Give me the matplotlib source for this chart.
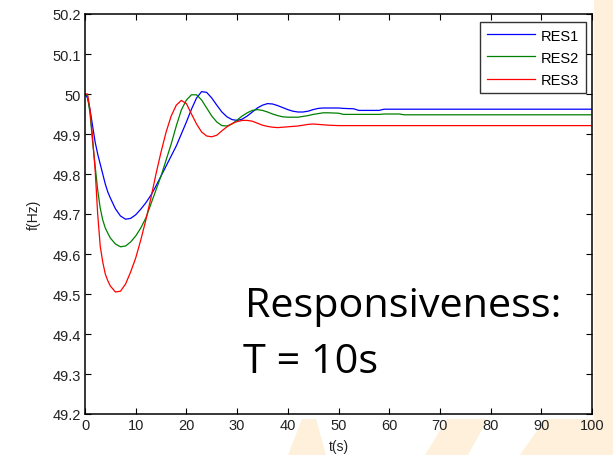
import matplotlib
matplotlib.use("Agg")
import matplotlib.pyplot as plt
from matplotlib.patches import Polygon, Rectangle

# ---------------- data ----------------
t = [0, 0.5, 1, 1.5, 2, 2.5, 3, 3.5, 4, 4.5, 5, 6, 7, 8, 9, 10, 11, 12, 13, 14,
     15, 16, 17, 18, 19, 20, 21, 22, 23, 24, 25, 26, 27, 28, 29, 30, 31, 32, 33,
     34, 35, 36, 37, 38, 39, 40, 41, 42, 43, 44, 45, 46, 47, 48, 50, 51, 53, 54,
     58, 59, 62, 63, 100]

res1 = [50.0, 49.99, 49.96, 49.92, 49.88, 49.85, 49.825, 49.80, 49.775, 49.755,
        49.74, 49.713, 49.695, 49.687, 49.689, 49.698, 49.712, 49.728, 49.747, 49.77,
        49.795, 49.82, 49.845, 49.87, 49.90, 49.93, 49.962, 49.99, 50.006, 50.004,
        49.99, 49.972, 49.955, 49.943, 49.936, 49.934, 49.937, 49.945, 49.955,
        49.965, 49.972, 49.976, 49.975, 49.971, 49.966, 49.961, 49.957, 49.955, 49.955,
        49.957, 49.961, 49.964, 49.965, 49.965, 49.965, 49.964, 49.963, 49.959,
        49.959, 49.962, 49.962, 49.962, 49.962]

res2 = [50.0, 49.995, 49.95, 49.88, 49.82, 49.76, 49.715, 49.685, 49.665, 49.652,
        49.64, 49.625, 49.618, 49.62, 49.63, 49.645, 49.665, 49.69, 49.725, 49.76,
        49.795, 49.835, 49.875, 49.92, 49.96, 49.985, 49.998, 49.998, 49.985, 49.965,
        49.945, 49.93, 49.921, 49.92, 49.925, 49.935, 49.945, 49.953, 49.959,
        49.961, 49.959, 49.955, 49.95, 49.946, 49.943, 49.942, 49.942, 49.942, 49.944,
        49.946, 49.949, 49.951, 49.953, 49.953, 49.952, 49.949, 49.949, 49.949,
        49.949, 49.95, 49.95, 49.948, 49.948]

res3 = [50.0, 50.0, 49.96, 49.89, 49.81, 49.70, 49.62, 49.58, 49.55, 49.533,
        49.52, 49.505, 49.507, 49.525, 49.555, 49.59, 49.635, 49.685, 49.74, 49.80,
        49.855, 49.905, 49.945, 49.972, 49.984, 49.976, 49.95, 49.925, 49.905, 49.895,
        49.893, 49.897, 49.908, 49.918, 49.926, 49.931, 49.934, 49.934, 49.932,
        49.927, 49.922, 49.919, 49.917, 49.916, 49.917, 49.918, 49.919, 49.920, 49.922,
        49.924, 49.925, 49.924, 49.923, 49.922, 49.921, 49.921, 49.921, 49.921,
        49.921, 49.921, 49.921, 49.921, 49.921]

series_labels = ["RES1", "RES2", "RES3"]
series_colors = ["#0000FF", "#008000", "#FF0000"]
xticks = [0, 10, 20, 30, 40, 50, 60, 70, 80, 90, 100]
yticks = [49.2, 49.3, 49.4, 49.5, 49.6, 49.7, 49.8, 49.9, 50.0, 50.1, 50.2]
ytick_labels = ["49.2", "49.3", "49.4", "49.5", "49.6", "49.7", "49.8", "49.9", "50", "50.1", "50.2"]
annotation = ["Responsiveness:", "T = 10s"]

# ---------------- figure ----------------
W, H = 613, 456
fig = plt.figure(figsize=(W / 100, H / 100), dpi=100)
fig.patch.set_facecolor("white")

# faint slide-background watermark, on a background axes behind everything
bg = fig.add_axes([0, 0, 1, 1], zorder=-10)
bg.set_xlim(0, W)
bg.set_ylim(H, 0)
bg.axis("off")
wm = "#FEF0DA"
bg.add_patch(Rectangle((594, 0), 19, H, facecolor=wm, edgecolor="none"))
for pts in [
    [(288, 456), (302, 420), (316, 420), (326, 456)],
    [(425, 456), (447, 420), (488, 420), (468, 456)],
    [(520, 456), (545, 420), (594, 420), (594, 456)],
]:
    bg.add_patch(Polygon(pts, closed=True, facecolor=wm, edgecolor="none"))

ax = fig.add_axes([85 / W, 1 - 415 / H, (592 - 85) / W, (415 - 15) / H])
ax.set_facecolor("white")

for y, lab, col in zip([res1, res2, res3], series_labels, series_colors):
    ax.plot(t, y, color=col, lw=0.9, label=lab)

ax.set_xlim(0, 100)
ax.set_ylim(49.2, 50.2)
ax.set_xticks(xticks)
ax.set_yticks(yticks)
ax.set_yticklabels(ytick_labels)

font = "Liberation Sans"
for lab in ax.get_xticklabels() + ax.get_yticklabels():
    lab.set_fontfamily(font)
    lab.set_fontsize(10.5)

ax.tick_params(direction="in", length=4, width=0.8, top=True, right=True,
               pad=3, colors="black", labelcolor="#222222")
for s in ax.spines.values():
    s.set_linewidth(1.1)
    s.set_color("black")

ax.set_xlabel("t(s)", fontfamily=font, fontsize=10, labelpad=5, color="#222222")
ax.set_ylabel("f(Hz)", fontfamily=font, fontsize=10, labelpad=8, color="#222222")

leg = ax.legend(loc="upper right", bbox_to_anchor=(586 / W, 1 - 23 / H),
                bbox_transform=fig.transFigure, borderaxespad=0,
                prop={"family": font, "size": 10.5}, frameon=True, fancybox=False,
                edgecolor="black", handlelength=3.3, handletextpad=0.45,
                labelspacing=0.55, borderpad=0.45)
leg.get_frame().set_linewidth(1.0)

# big annotation text, fitted to the reference width
fig.canvas.draw()
renderer = fig.canvas.get_renderer()
big = dict(fontfamily="Open Sans", fontsize=27, color="black", ha="left", va="baseline")
t1 = ax.text(245 / W, 1 - 317 / H, annotation[0], transform=fig.transFigure, **big)
w1 = t1.get_window_extent(renderer).width
fs = 27 * 317 / w1
t1.set_fontsize(fs)
ax.text(243 / W, 1 - 373 / H, annotation[1], transform=fig.transFigure,
        **{**big, "fontsize": fs})

fig.savefig("out.png", dpi=100, facecolor=fig.get_facecolor())
